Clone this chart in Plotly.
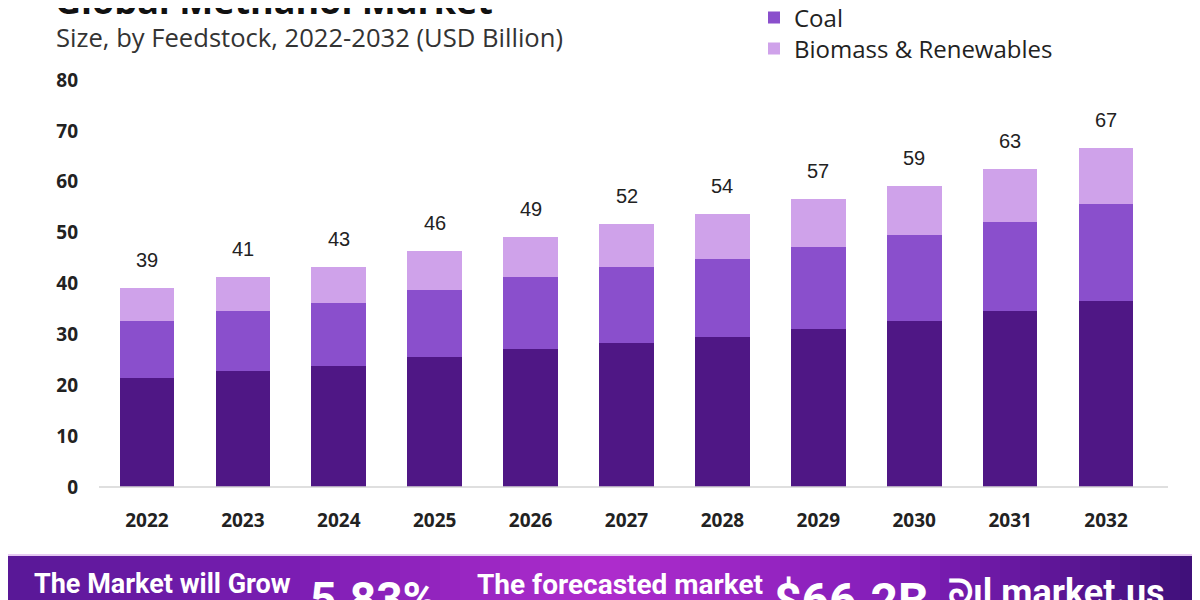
import plotly.graph_objects as go

years = ["2022", "2023", "2024", "2025", "2026", "2027", "2028", "2029", "2030", "2031", "2032"]
natural_gas = [21.5, 22.8, 23.8, 25.6, 27.1, 28.4, 29.4, 31.1, 32.7, 34.5, 36.6]
coal = [11.2, 11.7, 12.4, 13.1, 14.2, 14.8, 15.4, 16.1, 16.8, 17.6, 19.0]
biomass = [6.4, 6.8, 7.1, 7.7, 7.9, 8.5, 8.9, 9.4, 9.7, 10.5, 11.0]
total_labels = ["39", "41", "43", "46", "49", "52", "54", "57", "59", "63", "67"]
y_ticks = [0, 10, 20, 30, 40, 50, 60, 70, 80]

C_DARK = "#4f1785"
C_MID = "#8a4fcc"
C_LIGHT = "#cfa2ea"

# page offset (body margin of the html page)
OFF = 8
W, H = 1200 - OFF, 600 - OFF
ML, MR, MT, MB = 91, 46, 72, 113
PW = W - ML - MR
PH = H - MB - MT


def px(x):  # page pixel -> paper x
    return (x - OFF - ML) / PW


def py(y):  # page pixel -> paper y
    return (H - MB - (y - OFF)) / PH


fig = go.Figure()
fig.add_trace(go.Bar(x=years, y=natural_gas, name="Natural Gas", marker_color=C_DARK,
                     marker_line_width=0, showlegend=False))
fig.add_trace(go.Bar(x=years, y=coal, name="Coal", marker_color=C_MID, marker_line_width=0,
                     legend="legend"))
fig.add_trace(go.Bar(x=years, y=biomass, name="Biomass & Renewables", marker_color=C_LIGHT,
                     marker_line_width=0, legend="legend2"))

totals = [a + b + c for a, b, c in zip(natural_gas, coal, biomass)]
for i, (t, lab) in enumerate(zip(totals, total_labels)):
    fig.add_annotation(x=i, y=t, xref="x", yref="y", text=lab, showarrow=False,
                       yanchor="bottom", yshift=15,
                       font=dict(family="Liberation Sans, Arial", size=20, color="#222222"))

shapes = []
shapes.append(dict(type="line", xref="paper", yref="paper", x0=px(99), x1=px(1168), y0=0, y1=0,
                   line=dict(color="#d4d4d4", width=1.5)))
shapes.append(dict(type="line", xref="paper", yref="paper", x0=px(1195), x1=px(1195),
                   y0=py(-5), y1=py(556), line=dict(color="#6a3a9a", width=3)))

stops = [(0, (88, 24, 150)), (300, (125, 30, 180)), (600, (175, 45, 205)),
         (900, (130, 30, 185)), (1200, (62, 16, 120))]


def grad(xv):
    for (x0, c0), (x1, c1) in zip(stops[:-1], stops[1:]):
        if x0 <= xv <= x1:
            f = (xv - x0) / (x1 - x0)
            return tuple(int(c0[k] + (c1[k] - c0[k]) * f) for k in range(3))
    return stops[-1][1]


n = 60
for k in range(n):
    xa = k * 1200 / n
    xb = (k + 1) * 1200 / n + 1
    c = grad((xa + xb) / 2)
    shapes.append(dict(type="rect", xref="paper", yref="paper", x0=px(xa), x1=px(xb),
                       y0=py(556), y1=py(610), line_width=0,
                       fillcolor="rgb(%d,%d,%d)" % c, layer="above"))
shapes.append(dict(type="line", xref="paper", yref="paper", x0=px(0), x1=px(1200),
                   y0=py(555), y1=py(555), line=dict(color="#e6c8f2", width=2), layer="above"))
fig.update_layout(shapes=shapes)

fig.add_annotation(xref="paper", yref="paper", x=px(53), y=py(27), xanchor="left", yanchor="bottom",
                   text="<b>Global Methanol Market</b>", showarrow=False,
                   font=dict(family="Open Sans", size=36, color="#111111"))
fig.add_annotation(xref="paper", yref="paper", x=px(54), y=py(37), xanchor="left", yanchor="middle",
                   text="Size, by Feedstock, 2022-2032 (USD Billion)", showarrow=False,
                   font=dict(family="Open Sans", size=25.6, color="#333333"))

banner_font = "Roboto"
fig.add_annotation(xref="paper", yref="paper", x=px(32), y=py(566), xanchor="left", yanchor="top",
                   text="<b>The Market will Grow</b>", showarrow=False,
                   font=dict(family=banner_font, size=27, color="white"))
fig.add_annotation(xref="paper", yref="paper", x=px(308), y=py(570), xanchor="left", yanchor="top",
                   text="<b>5.83%</b>", showarrow=False,
                   font=dict(family=banner_font, size=46, color="white"))
fig.add_annotation(xref="paper", yref="paper", x=px(475), y=py(566), xanchor="left", yanchor="top",
                   text="<b>The forecasted market</b>", showarrow=False,
                   font=dict(family=banner_font, size=28, color="white"))
fig.add_annotation(xref="paper", yref="paper", x=px(772), y=py(570), xanchor="left", yanchor="top",
                   text="<b>$66.2B</b>", showarrow=False,
                   font=dict(family=banner_font, size=48, color="white"))
fig.add_annotation(xref="paper", yref="paper", x=px(946), y=py(570), xanchor="left", yanchor="top",
                   text="<b>ᘐıl market.us</b>", showarrow=False,
                   font=dict(family=banner_font, size=36, color="white"))

legend_font = dict(family="Open Sans", size=24, color="#222222")
fig.update_layout(
    width=W, height=H,
    margin=dict(l=ML, r=MR, t=MT, b=MB, autoexpand=False),
    barmode="stack", bargap=0.43,
    plot_bgcolor="white", paper_bgcolor="white",
    xaxis=dict(type="category", range=[-0.5, 10.5], showgrid=False, zeroline=False,
               showline=False, ticks="", ticklabelstandoff=20,
               tickfont=dict(family="Open Sans", size=19, color="#222222", weight="bold")),
    yaxis=dict(range=[0, 80], tickvals=y_ticks, showgrid=False, zeroline=False, showline=False,
               ticks="", ticklabelstandoff=20,
               tickfont=dict(family="Open Sans", size=19, color="#222222", weight="bold")),
    legend=dict(x=px(754), y=py(18), xanchor="left", yanchor="middle",
                bgcolor="rgba(0,0,0,0)", font=legend_font),
    legend2=dict(x=px(754), y=py(49), xanchor="left", yanchor="middle",
                 bgcolor="rgba(0,0,0,0)", font=legend_font),
    showlegend=True,
)

fig.write_html("out.html")
